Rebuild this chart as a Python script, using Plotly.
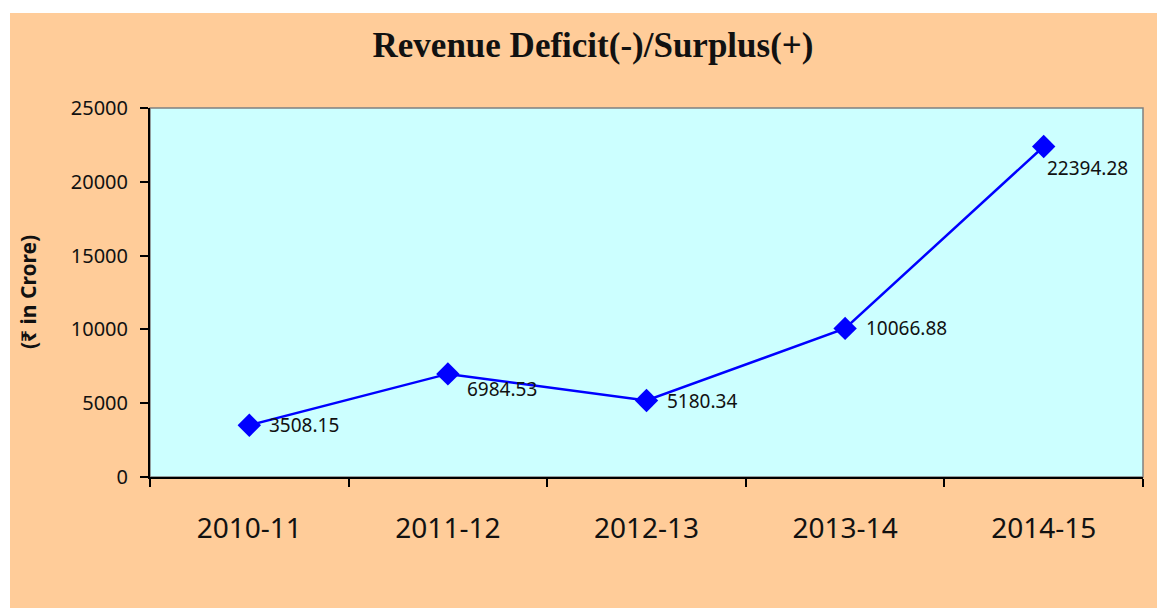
import plotly.graph_objects as go

categories = ["2010-11", "2011-12", "2012-13", "2013-14", "2014-15"]
values = [3508.15, 6984.53, 5180.34, 10066.88, 22394.28]
labels = ["3508.15", "6984.53", "5180.34", "10066.88", "22394.28"]
y_ticks = [0, 5000, 10000, 15000, 20000, 25000]
y_tick_text = ["0", "5000", "10000", "15000", "20000", "25000"]

# label offsets (style)
label_dx = [18, 17, 18, 19, 1]
label_dy = [0, -15, 0, 0, -22]

# page body has an 8px margin; work in screen pixels and subtract it
OFF = 8
W, H = 1165 - OFF, 608 - OFF
L, T = 150 - OFF, 108 - OFF
R = W - (1143 - OFF)
B = H - (477 - OFF)
pw, ph = W - L - R, H - T - B

def px_to_paper_x(px):
    return (px - OFF - L) / pw

def px_to_paper_y(py):
    return (H - B - (py - OFF)) / ph

fig = go.Figure()
fig.add_trace(go.Scatter(
    x=categories, y=values, mode="lines+markers",
    line=dict(color="#0000FF", width=2.5),
    marker=dict(symbol="diamond", size=18, color="#0000FF"),
    hoverinfo="x+y", showlegend=False,
))

annotations = []
for c, v, t, dx, dy in zip(categories, values, labels, label_dx, label_dy):
    annotations.append(dict(
        x=c, y=v, xref="x", yref="y", text=t, showarrow=False,
        xanchor="left", yanchor="middle", xshift=dx, yshift=dy,
        font=dict(family="Noto Sans", size=19, color="#111111"),
    ))

annotations.append(dict(
    x=px_to_paper_x(28), y=px_to_paper_y(292), xref="paper", yref="paper",
    text="<b>(₹ in Crore)</b>", textangle=-90, showarrow=False,
    xanchor="center", yanchor="middle",
    font=dict(family="Noto Sans", size=21, color="#111111"),
))

shapes = [
    dict(type="rect", xref="paper", yref="paper", layer="below",
         x0=px_to_paper_x(10), x1=px_to_paper_x(1175),
         y0=px_to_paper_y(620), y1=px_to_paper_y(13),
         fillcolor="#FFCC99", line=dict(width=0)),
    dict(type="rect", xref="paper", yref="paper", layer="below",
         x0=0, x1=1, y0=0, y1=1,
         fillcolor="#CCFFFF", line=dict(color="#808080", width=1.5)),
]

fig.update_layout(
    width=W, height=H,
    margin=dict(l=L, r=R, t=T, b=B),
    paper_bgcolor="white",
    plot_bgcolor="rgba(0,0,0,0)",
    title=dict(
        text="<b>Revenue Deficit(-)/Surplus(+)</b>",
        x=(593 - OFF) / W, xref="container", xanchor="center",
        y=1 - (45 - OFF) / H, yref="container", yanchor="middle",
        font=dict(family="Liberation Serif", size=35, color="#111111"),
    ),
    xaxis=dict(
        type="category", range=[-0.5, 4.5],
        showgrid=False, zeroline=False,
        showline=True, linecolor="black", linewidth=2,
        ticks="outside", tickson="boundaries", ticklen=8, tickwidth=2, tickcolor="black",
        ticklabelstandoff=25,
        tickfont=dict(family="Noto Sans", size=28, color="#111111"),
    ),
    yaxis=dict(
        range=[0, 25000], tickvals=y_ticks, ticktext=y_tick_text,
        showgrid=False, zeroline=False,
        showline=True, linecolor="black", linewidth=2,
        ticks="outside", ticklen=8, tickwidth=2, tickcolor="black",
        ticklabelstandoff=8,
        tickfont=dict(family="Noto Sans", size=20, color="#111111"),
    ),
    annotations=annotations,
    shapes=shapes,
)

fig.write_html("out.html")
